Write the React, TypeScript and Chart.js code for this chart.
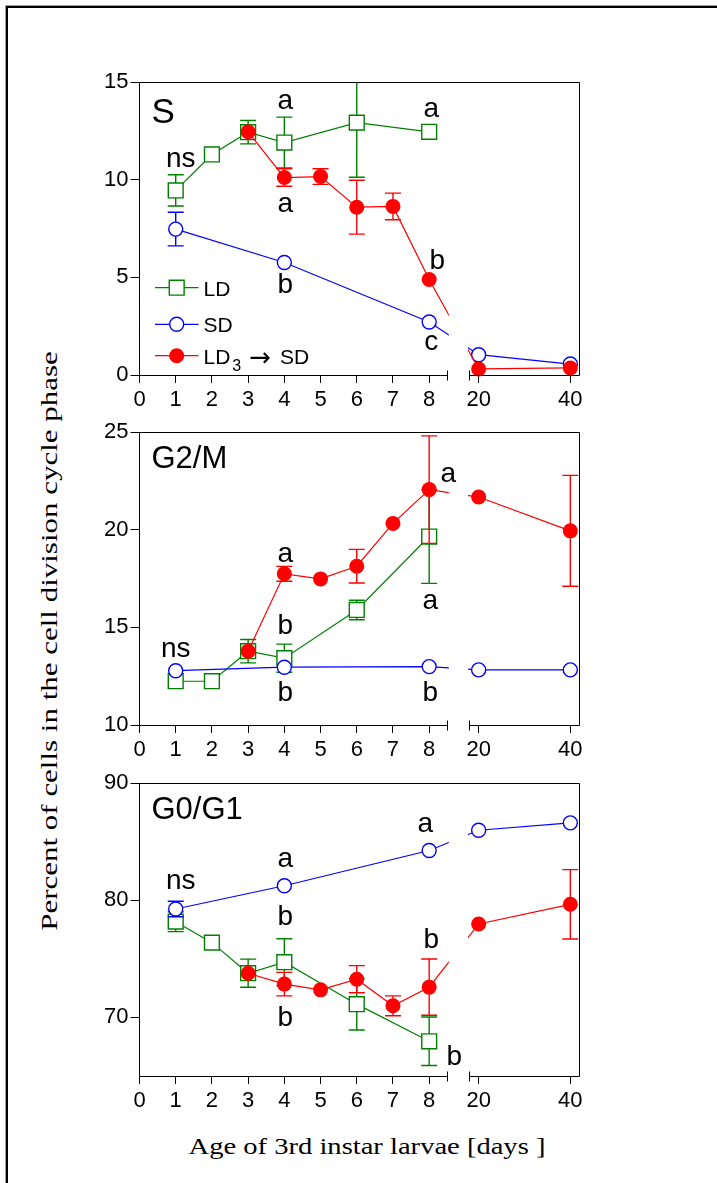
import React, { useEffect, useRef } from 'react';
import { Chart, registerables, LinearScale } from 'chart.js';

Chart.register(...registerables);

// ---------------- data ----------------
const X_TICKS = [0, 1, 2, 3, 4, 5, 6, 7, 8, 20, 40];

const DAYS_LD = [1, 2, 3, 4, 6, 8];
const DAYS_SD = [1, 4, 8, 20, 40];
const DAYS_SW = [3, 4, 5, 6, 7, 8, 20, 40];

// S phase
const S_LD = [9.45, 11.29, 12.43, 11.9, 12.92, 12.45];
const S_LD_ERR = [0.8, null, 0.6, 1.3, 2.8, null];
const S_SD = [7.47, 5.76, 2.71, 1.04, 0.56];
const S_SD_ERR = [0.86, null, null, null, null];
const S_SW = [12.45, 10.11, 10.16, 8.59, 8.63, 4.89, 0.31, 0.36];
const S_SW_ERR = [null, 0.45, 0.4, 1.38, 0.68, null, null, null];
const S_Y_TICKS = [0, 5, 10, 15];

// G2/M phase
const G2_LD = [12.24, 12.24, 13.78, 13.42, 15.89, 19.65];
const G2_LD_ERR = [null, null, 0.6, 0.72, 0.5, 2.4];
const G2_SD = [12.78, 12.96, 12.99, 12.82, 12.82];
const G2_SD_ERR = [null, null, null, null, null];
const G2_SW = [13.78, 17.74, 17.48, 18.13, 20.32, 22.05, 21.67, 19.94];
const G2_SW_ERR = [null, 0.38, null, 0.86, null, 2.75, null, 2.84];
const G2_Y_TICKS = [10, 15, 20, 25];

// G0/G1 phase
const G1_LD = [78.17, 76.38, 73.77, 74.71, 71.13, 67.96];
const G1_LD_ERR = [0.85, null, 1.2, 2.0, 2.2, 2.07];
const G1_SD = [79.25, 81.23, 84.24, 85.97, 86.6];
const G1_SD_ERR = [0.66, null, null, null, null];
const G1_SW = [73.77, 72.84, 72.35, 73.26, 70.99, 72.58, 77.97, 79.65];
const G1_SW_ERR = [null, 1.0, null, 1.16, 0.85, 2.4, null, 2.96];
const G1_Y_TICKS = [70, 80, 90];

// significance letters: text, x (day), y (value at baseline), dx (px nudge)
const S_NOTES = [
  { t: 'ns', x: 1, y: 10.64, dx: 5 },
  { t: 'a', x: 4, y: 13.6, dx: 1 },
  { t: 'a', x: 4, y: 8.37, dx: 1 },
  { t: 'b', x: 4, y: 4.22, dx: 1 },
  { t: 'a', x: 8, y: 13.2, dx: 2 },
  { t: 'b', x: 8, y: 5.42, dx: 8 },
  { t: 'c', x: 8, y: 1.29, dx: 2 },
];
const G2_NOTES = [
  { t: 'ns', x: 1, y: 13.47, dx: 0 },
  { t: 'a', x: 4, y: 18.34, dx: 1 },
  { t: 'b', x: 4, y: 14.66, dx: 1 },
  { t: 'b', x: 4, y: 11.21, dx: 1 },
  { t: 'a', x: 8, y: 22.44, dx: 19 },
  { t: 'a', x: 8, y: 15.95, dx: 1 },
  { t: 'b', x: 8, y: 11.21, dx: 1 },
];
const G1_NOTES = [
  { t: 'ns', x: 1, y: 80.92, dx: 5 },
  { t: 'a', x: 4, y: 82.85, dx: 1 },
  { t: 'b', x: 4, y: 77.89, dx: 1 },
  { t: 'b', x: 4, y: 69.23, dx: 1 },
  { t: 'a', x: 8, y: 85.83, dx: -4 },
  { t: 'b', x: 8, y: 75.9, dx: 2 },
  { t: 'b', x: 8, y: 65.97, dx: 25 },
];

const SERIES_NAMES = ['LD', 'SD', 'LD3 → SD'];

// ---------------- styles ----------------
const GREEN = '#008000';
const BLUE = '#0000ff';
const RED = '#ff0000';
const SANS = '"Liberation Sans", Arial, sans-serif';
const SERIF = '"Liberation Serif", "Times New Roman", serif';
const TICK_FONT = 22;

// ---------------- broken x axis ----------------
const BREAK_LO = 8.5;
const BREAK_HI = 18;
const AXIS_END = 42;
const GAP_W = 0.613;
const K_HI = 0.1266;

function toDisp(v: number): number {
  if (v <= BREAK_LO) return v;
  if (v >= BREAK_HI) return BREAK_LO + GAP_W + (v - BREAK_HI) * K_HI;
  return BREAK_LO + ((v - BREAK_LO) / (BREAK_HI - BREAK_LO)) * GAP_W;
}
function fromDisp(d: number): number {
  if (d <= BREAK_LO) return d;
  if (d >= BREAK_LO + GAP_W) return BREAK_HI + (d - BREAK_LO - GAP_W) / K_HI;
  return BREAK_LO + ((d - BREAK_LO) / GAP_W) * (BREAK_HI - BREAK_LO);
}

class BrokenLinearScale extends LinearScale {
  static id = 'brokenLinear';
  configure() {
    super.configure();
    const self = this as any;
    const s = toDisp(self.min);
    const e = toDisp(self.max);
    self._startValue = s;
    self._endValue = e;
    self._valueRange = e - s;
  }
  getPixelForValue(value: any, index?: number) {
    return super.getPixelForValue(value == null ? value : toDisp(value), index as any);
  }
  getValueForPixel(pixel: number) {
    return fromDisp(super.getValueForPixel(pixel) as number);
  }
}
Chart.register(BrokenLinearScale as any);

// ---------------- layout ----------------
const CANVAS_LEFT = 80;
const CANVAS_W = 520;
const Y_AXIS_W = 59.5;
const PAD_RIGHT = 20.5;
const PAD_TOP = 20;
const X_AXIS_H = 40;
const PLOT_H = 293;

const pts = (xs: number[], ys: number[]) => xs.map((x, i) => ({ x, y: ys[i] }));

function series(ld: number[], ldE: any[], sd: number[], sdE: any[], sw: number[], swE: any[]) {
  return [
    {
      label: SERIES_NAMES[0], data: pts(DAYS_LD, ld), errors: ldE, order: 3,
      borderColor: GREEN, backgroundColor: '#fff', borderWidth: 1.2,
      pointStyle: 'rect', pointRadius: 10.5, pointBorderWidth: 1.4,
      pointBackgroundColor: '#fff', pointBorderColor: GREEN,
    },
    {
      label: SERIES_NAMES[1], data: pts(DAYS_SD, sd), errors: sdE, order: 2,
      borderColor: BLUE, backgroundColor: '#fff', borderWidth: 1.2,
      pointStyle: 'circle', pointRadius: 7, pointBorderWidth: 1.4,
      pointBackgroundColor: '#fff', pointBorderColor: BLUE,
    },
    {
      label: SERIES_NAMES[2], data: pts(DAYS_SW, sw), errors: swE, order: 1,
      borderColor: RED, backgroundColor: RED, borderWidth: 1.2,
      pointStyle: 'circle', pointRadius: 7.5, pointBorderWidth: 0,
      pointBackgroundColor: RED, pointBorderColor: RED,
    },
  ];
}

const PANELS = [
  {
    key: 'S', title: 'S', titleSize: 35, titleBase: 41, plotTop: 82, yMin: 0, yMax: 15,
    yTicks: S_Y_TICKS, notes: S_NOTES, legend: true,
    datasets: series(S_LD, S_LD_ERR, S_SD, S_SD_ERR, S_SW, S_SW_ERR),
  },
  {
    key: 'G2', title: 'G2/M', titleSize: 31, titleBase: 36, plotTop: 432, yMin: 10, yMax: 25,
    yTicks: G2_Y_TICKS, notes: G2_NOTES, legend: false,
    datasets: series(G2_LD, G2_LD_ERR, G2_SD, G2_SD_ERR, G2_SW, G2_SW_ERR),
  },
  {
    key: 'G1', title: 'G0/G1', titleSize: 31, titleBase: 36, plotTop: 783, yMin: 65, yMax: 90,
    yTicks: G1_Y_TICKS, notes: G1_NOTES, legend: false,
    datasets: series(G1_LD, G1_LD_ERR, G1_SD, G1_SD_ERR, G1_SW, G1_SW_ERR),
  },
];

const CAP = 8;

function drawMarker(ctx: CanvasRenderingContext2D, ds: any, x: number, y: number) {
  ctx.save();
  ctx.fillStyle = ds.pointBackgroundColor;
  ctx.strokeStyle = ds.pointBorderColor;
  ctx.lineWidth = ds.pointBorderWidth;
  ctx.beginPath();
  if (ds.pointStyle === 'rect') {
    const s = Math.SQRT1_2 * ds.pointRadius;
    ctx.rect(x - s, y - s, 2 * s, 2 * s);
  } else {
    ctx.arc(x, y, ds.pointRadius, 0, Math.PI * 2);
  }
  ctx.fill();
  if (ds.pointBorderWidth > 0) ctx.stroke();
  ctx.restore();
}

function makePlugin(p: any) {
  return {
    id: 'panelDecor',
    beforeDatasetDraw(chart: any, args: any) {
      const ds = chart.data.datasets[args.index];
      const errs = ds.errors;
      if (!errs) return;
      const { ctx, chartArea: a } = chart;
      const xs = chart.scales.x;
      const ys = chart.scales.y;
      ctx.save();
      ctx.beginPath();
      ctx.rect(a.left, a.top, a.right - a.left, a.bottom - a.top);
      ctx.clip();
      ctx.strokeStyle = ds.borderColor;
      ctx.lineWidth = 1.4;
      ds.data.forEach((pt: any, i: number) => {
        const e = errs[i];
        if (e == null) return;
        const x = xs.getPixelForValue(pt.x);
        const y1 = ys.getPixelForValue(pt.y + e);
        const y2 = ys.getPixelForValue(pt.y - e);
        ctx.beginPath();
        ctx.moveTo(x, y1); ctx.lineTo(x, y2);
        ctx.moveTo(x - CAP, y1); ctx.lineTo(x + CAP, y1);
        ctx.moveTo(x - CAP, y2); ctx.lineTo(x + CAP, y2);
        ctx.stroke();
      });
      ctx.restore();
    },
    afterDatasetsDraw(chart: any) {
      const { ctx, chartArea: a } = chart;
      const xs = chart.scales.x;
      const ys = chart.scales.y;
      // mask the axis break
      const g0 = xs.getPixelForValue(BREAK_LO);
      const g1 = xs.getPixelForValue(BREAK_HI);
      ctx.save();
      ctx.fillStyle = '#fff';
      ctx.fillRect(g0 + 1.5, a.top - 10, g1 - g0 - 3, a.bottom - a.top + 10);
      ctx.restore();

      // letters
      ctx.save();
      ctx.fillStyle = '#000';
      ctx.font = `28px ${SANS}`;
      ctx.textAlign = 'center';
      ctx.textBaseline = 'alphabetic';
      p.notes.forEach((n: any) => {
        ctx.fillText(n.t, xs.getPixelForValue(n.x) + n.dx, ys.getPixelForValue(n.y));
      });
      // panel title
      ctx.textAlign = 'left';
      ctx.font = `${p.titleSize}px ${SANS}`;
      ctx.fillText(p.title, a.left + 12, a.top + p.titleBase);
      ctx.restore();

      if (p.legend) {
        const rows = [205.7, 242.3, 273.7];
        const dss = chart.data.datasets;
        ctx.save();
        rows.forEach((ry, i) => {
          const ds = dss[i];
          const y = a.top + ry;
          const x0 = a.left + 15.5;
          ctx.strokeStyle = ds.borderColor;
          ctx.lineWidth = 1.2;
          ctx.beginPath();
          ctx.moveTo(x0, y); ctx.lineTo(x0 + 43.5, y);
          ctx.stroke();
          drawMarker(ctx, ds, x0 + 21.7, y);
          ctx.fillStyle = '#000';
          ctx.textAlign = 'left';
          ctx.textBaseline = 'alphabetic';
          const tx = a.left + 64;
          const base = y + 8;
          ctx.font = `21px ${SANS}`;
          if (i < 2) {
            ctx.fillText(ds.label, tx, base);
          } else {
            const parts = ds.label.split(' ');
            const main = parts[0].slice(0, 2);
            const sub = parts[0].slice(2);
            ctx.fillText(main, tx, base);
            let cx = tx + ctx.measureText(main).width + 2;
            ctx.font = `16px ${SANS}`;
            ctx.fillText(sub, cx, base + 7.5);
            cx += ctx.measureText(sub).width + 8;
            ctx.font = `26px "DejaVu Sans", ${SANS}`;
            ctx.fillText(parts[1], cx, base + 2);
            cx += ctx.measureText(parts[1]).width + 9;
            ctx.font = `21px ${SANS}`;
            ctx.fillText(parts[2], cx, base);
          }
        });
        ctx.restore();
      }
    },
    afterDraw(chart: any) {
      const { ctx, chartArea: a } = chart;
      const xs = chart.scales.x;
      const al = (v: number) => Math.round(v - 0.5) + 0.5;
      const L = al(a.left), R = al(a.right), T = al(a.top), B = al(a.bottom);
      const g0 = al(xs.getPixelForValue(BREAK_LO));
      const g1 = al(xs.getPixelForValue(BREAK_HI));
      ctx.save();
      ctx.strokeStyle = '#000';
      ctx.lineWidth = 1;
      ctx.beginPath();
      ctx.moveTo(L, T); ctx.lineTo(R, T); ctx.lineTo(R, B); ctx.lineTo(g1, B);
      ctx.moveTo(g0, B); ctx.lineTo(L - 0.5, B);
      ctx.moveTo(g0, B - 5); ctx.lineTo(g0, B + 5);
      ctx.moveTo(g1, B - 5); ctx.lineTo(g1, B + 5);
      ctx.stroke();
      ctx.restore();
    },
  };
}

function Panel({ p }: { p: any }) {
  const ref = useRef<HTMLCanvasElement>(null);
  const h = PAD_TOP + PLOT_H + X_AXIS_H;
  useEffect(() => {
    const chart = new Chart(ref.current as HTMLCanvasElement, {
      type: 'line',
      data: { datasets: p.datasets as any },
      plugins: [makePlugin(p) as any],
      options: {
        animation: false,
        responsive: false,
        devicePixelRatio: 1,
        events: [],
        layout: { padding: { top: PAD_TOP, right: PAD_RIGHT, left: 0, bottom: 0 } },
        plugins: { legend: { display: false }, tooltip: { enabled: false } },
        datasets: { line: { clip: { left: 10, right: 10, top: 0, bottom: 10 } as any } },
        scales: {
          x: {
            type: 'brokenLinear' as any,
            min: 0,
            max: AXIS_END,
            bounds: 'data',
            afterBuildTicks: (s: any) => { s.ticks = X_TICKS.map((v) => ({ value: v })); },
            afterFit: (s: any) => { s.height = X_AXIS_H; },
            ticks: {
              autoSkip: false, maxRotation: 0, minRotation: 0, padding: 4, color: '#000',
              font: { family: SANS, size: TICK_FONT },
              callback: (v: any) => String(v),
            },
            grid: { display: true, drawOnChartArea: false, drawTicks: true, tickLength: 8, color: '#000', lineWidth: 1 },
            border: { display: false },
          } as any,
          y: {
            type: 'linear',
            min: p.yMin,
            max: p.yMax,
            afterBuildTicks: (s: any) => { s.ticks = p.yTicks.map((v: number) => ({ value: v })); },
            afterFit: (s: any) => { s.width = Y_AXIS_W; },
            ticks: { padding: 2, color: '#000', font: { family: SANS, size: TICK_FONT }, callback: (v: any) => String(v) },
            grid: { display: true, drawOnChartArea: false, drawTicks: true, tickLength: 9, color: '#000', lineWidth: 1 },
            border: { display: true, color: '#000', width: 1 },
          } as any,
        },
      } as any,
    });
    return () => chart.destroy();
  }, []);
  return (
    <canvas
      ref={ref}
      width={CANVAS_W}
      height={h}
      style={{ position: 'absolute', left: CANVAS_LEFT, top: p.plotTop - PAD_TOP, width: CANVAS_W, height: h }}
    />
  );
}

export default function App() {
  return (
    <div style={{ position: 'fixed', left: 0, top: 0, width: 717, height: 1183, overflow: 'hidden', background: '#fff' }}>
      <div style={{ position: 'absolute', left: 5, top: 5, width: 2000, height: 3000, borderLeft: '1px solid #a0a0a0', borderTop: '1px solid #a0a0a0' }}>
        <div style={{ width: '100%', height: '100%', borderLeft: '2px solid #000', borderTop: '2px solid #000' }} />
      </div>
      {PANELS.map((p) => <Panel key={p.key} p={p} />)}
      <div
        style={{
          position: 'absolute', left: 48.6 - 350, top: 641 - 12, width: 700, height: 24,
          lineHeight: '24px', fontSize: 24, fontFamily: SERIF, color: '#000', textAlign: 'center',
          whiteSpace: 'nowrap', transform: 'rotate(-90deg) scaleX(1.29)',
        }}
      >
        Percent of cells in the cell division cycle phase
      </div>
      <div
        style={{
          position: 'absolute', left: 366.7 - 250, top: 1134, width: 500, height: 24,
          lineHeight: '24px', fontSize: 24, fontFamily: SERIF, color: '#000', textAlign: 'center',
          whiteSpace: 'nowrap', transform: 'scaleX(1.19)',
        }}
      >
        Age of 3rd instar larvae [days ]
      </div>
    </div>
  );
}
